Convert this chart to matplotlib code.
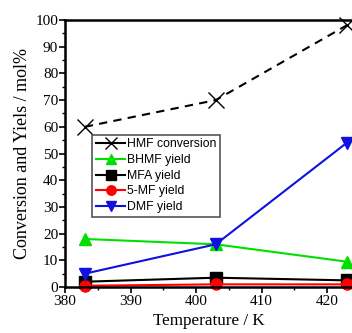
import matplotlib
matplotlib.use('Agg')
import matplotlib.pyplot as plt
from matplotlib.ticker import MultipleLocator

temps = [383, 403, 423]
hmf_conv = [60, 70, 98]
bhmf_yield = [18, 16, 9.5]
mfa_yield = [2, 3.5, 2.5]
mf5_yield = [0.5, 1, 1]
dmf_yield = [5, 16, 54]

series = [
    ("HMF conversion", hmf_conv, 'black', 'x', '--'),
    ("BHMF yield", bhmf_yield, '#00e000', '^', '-'),
    ("MFA yield", mfa_yield, 'black', 's', '-'),
    ("5-MF yield", mf5_yield, 'red', 'o', '-'),
    ("DMF yield", dmf_yield, '#1010e0', 'v', '-'),
]

fig = plt.figure(figsize=(3.52, 3.33), dpi=100)
ax = fig.add_axes([0.185, 0.138, 0.815, 0.802])

for name, vals, col, mk, ls in series:
    ms = 11 if mk == 'x' else 8
    ax.plot(temps, vals, color=col, marker=mk, linestyle=ls, lw=1.5,
            markersize=ms, markeredgewidth=1.0, label=name, clip_on=False,
            dashes=(4, 3) if ls == '--' else (None, None))

ax.set_xlim(380, 423.8)
ax.set_ylim(0, 100)
ax.xaxis.set_major_locator(MultipleLocator(10))
ax.xaxis.set_minor_locator(MultipleLocator(5))
ax.yaxis.set_major_locator(MultipleLocator(10))
ax.yaxis.set_minor_locator(MultipleLocator(5))
ax.tick_params(which='major', direction='out', length=4, width=1.2)
ax.tick_params(which='minor', direction='out', length=2.5, width=1)
for lab in ax.get_xticklabels() + ax.get_yticklabels():
    lab.set_fontfamily('Liberation Serif')
    lab.set_fontsize(11)
ax.tick_params(axis='y', pad=1)
ax.tick_params(axis='x', pad=2)

for s in ['left', 'bottom', 'top']:
    ax.spines[s].set_linewidth(1.8)
ax.spines['right'].set_visible(False)

ax.set_xlabel("Temperature / K", fontfamily='Liberation Serif', fontsize=12.3, labelpad=3)
ax.set_ylabel("Conversion and Yiels / mol%", fontfamily='Liberation Serif', fontsize=13, labelpad=3)

leg = ax.legend(loc='upper left', bbox_to_anchor=(0.095, 0.57),
                prop={'family': 'Liberation Sans', 'size': 8.8},
                handlelength=2.4, handletextpad=0.1, labelspacing=0.3,
                borderpad=0.3, borderaxespad=0, fancybox=False, framealpha=1,
                markerscale=0.85)
leg.get_frame().set_edgecolor('#555555')
leg.get_frame().set_linewidth(1.2)
for h in leg.legend_handles:
    h.set_linestyle('-')

fig.savefig("out.png", dpi=100)
